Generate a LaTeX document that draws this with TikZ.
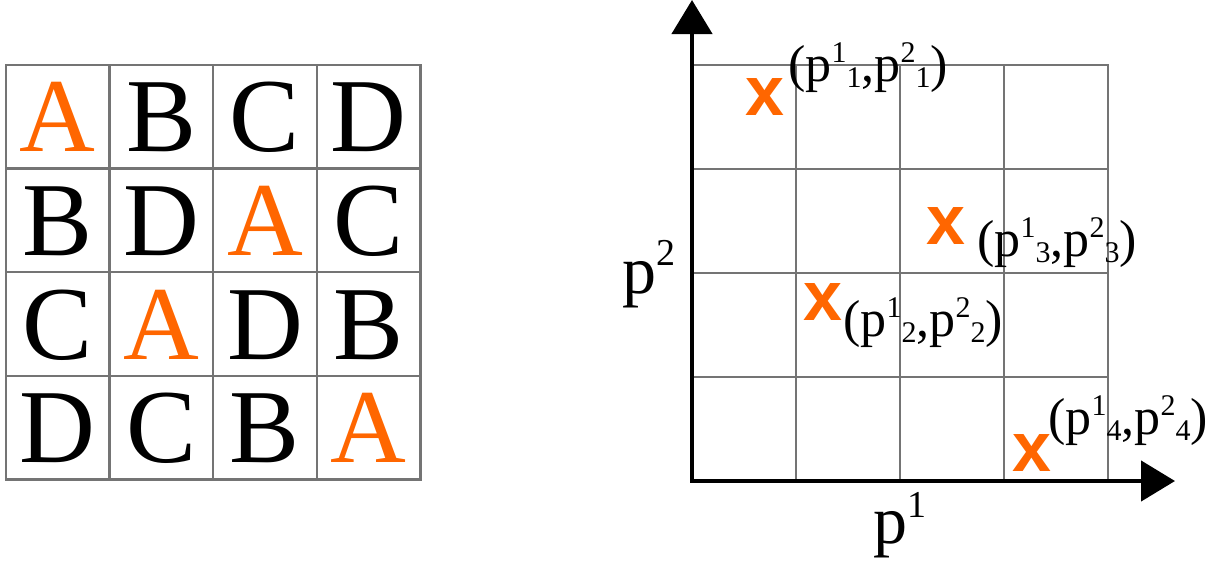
\documentclass[tikz,border=0pt]{standalone}
\usepackage{fontspec}
\setmainfont{Liberation Serif}
\setsansfont{Liberation Sans}
\usetikzlibrary{arrows.meta}
\definecolor{orng}{HTML}{FF6600}
\definecolor{gridgray}{HTML}{747474}
\newcommand{\scr}[1]{{\fontsize{30}{30}\selectfont #1}}
\newcommand{\ptlab}[1]{(p\raisebox{19pt}{\scr{1}}\raisebox{-6pt}{\scr{#1}},p\raisebox{19pt}{\scr{2}}\raisebox{-6pt}{\scr{#1}})}
\tikzset{
  gridline/.style={draw=gridgray, line width=2.5pt, line cap=rect},
  letter/.style={anchor=base, inner sep=0pt, font=\fontsize{105}{105}\selectfont},
  axisline/.style={line width=4.5pt, -{Triangle[length=34pt,width=40pt]}},
  marker/.style={inner sep=0pt, text=orng, font=\sffamily\bfseries\fontsize{70}{70}\selectfont},
  ptlabel/.style={anchor=base west, inner sep=0pt, font=\fontsize{52}{52}\selectfont},
  axlabel/.style={anchor=base west, inner sep=0pt, font=\fontsize{68}{68}\selectfont}
}
\begin{document}
\begin{tikzpicture}[x=1pt,y=-1pt]
\useasboundingbox (0,0) rectangle (1222,571);
% left grid
\foreach \i in {0,...,4}{
  \draw[gridline] ({6+103.6*\i},65) -- ({6+103.6*\i},479.4);
  \draw[gridline] (6,{65+103.6*\i}) -- (420.4,{65+103.6*\i});
}
\foreach \c/\r/\L/\col in {0/0/A/orng,1/0/B/black,2/0/C/black,3/0/D/black,
  0/1/B/black,1/1/D/black,2/1/A/orng,3/1/C/black,
  0/2/C/black,1/2/A/orng,2/2/D/black,3/2/B/black,
  0/3/D/black,1/3/C/black,2/3/B/black,3/3/A/orng}{
  \node[letter, text=\col] (cell-\r-\c) at ({6+103.6*(\c+0.5)},{65+103.6*(\r+0.5)+35}) {\L};
}
% right grid
\foreach \i in {0,...,4}{
  \draw[gridline] ({692+104*\i},65) -- ({692+104*\i},481);
  \draw[gridline] (692,{65+104*\i}) -- (1108,{65+104*\i});
}
% axes
\coordinate (O) at (692,481);
\coordinate (Ox) at (690,481);
\coordinate (ytip) at (692,0);
\coordinate (xtip) at (1175,481);
\draw[axisline] (O) -- (ytip);
\draw[axisline] (Ox) -- (xtip);
\node[axlabel] (p2) at (622,293) {p\raisebox{28pt}{\fontsize{38}{38}\selectfont 2}};
\node[axlabel] (p1) at (873,543) {p\raisebox{26pt}{\fontsize{38}{38}\selectfont 1}};
% markers
\node[marker] (m1) at (765,97) {x};
\node[marker] (m2) at (823,302) {x};
\node[marker] (m3) at (946,226) {x};
\node[marker] (m4) at (1032,453) {x};
\node[ptlabel] (l1) at (788,81) {\ptlab{1}};
\node[ptlabel] (l2) at (843,336) {\ptlab{2}};
\node[ptlabel] (l3) at (977,256) {\ptlab{3}};
\node[ptlabel] (l4) at (1048,434) {\ptlab{4}};
\end{tikzpicture}
\end{document}
